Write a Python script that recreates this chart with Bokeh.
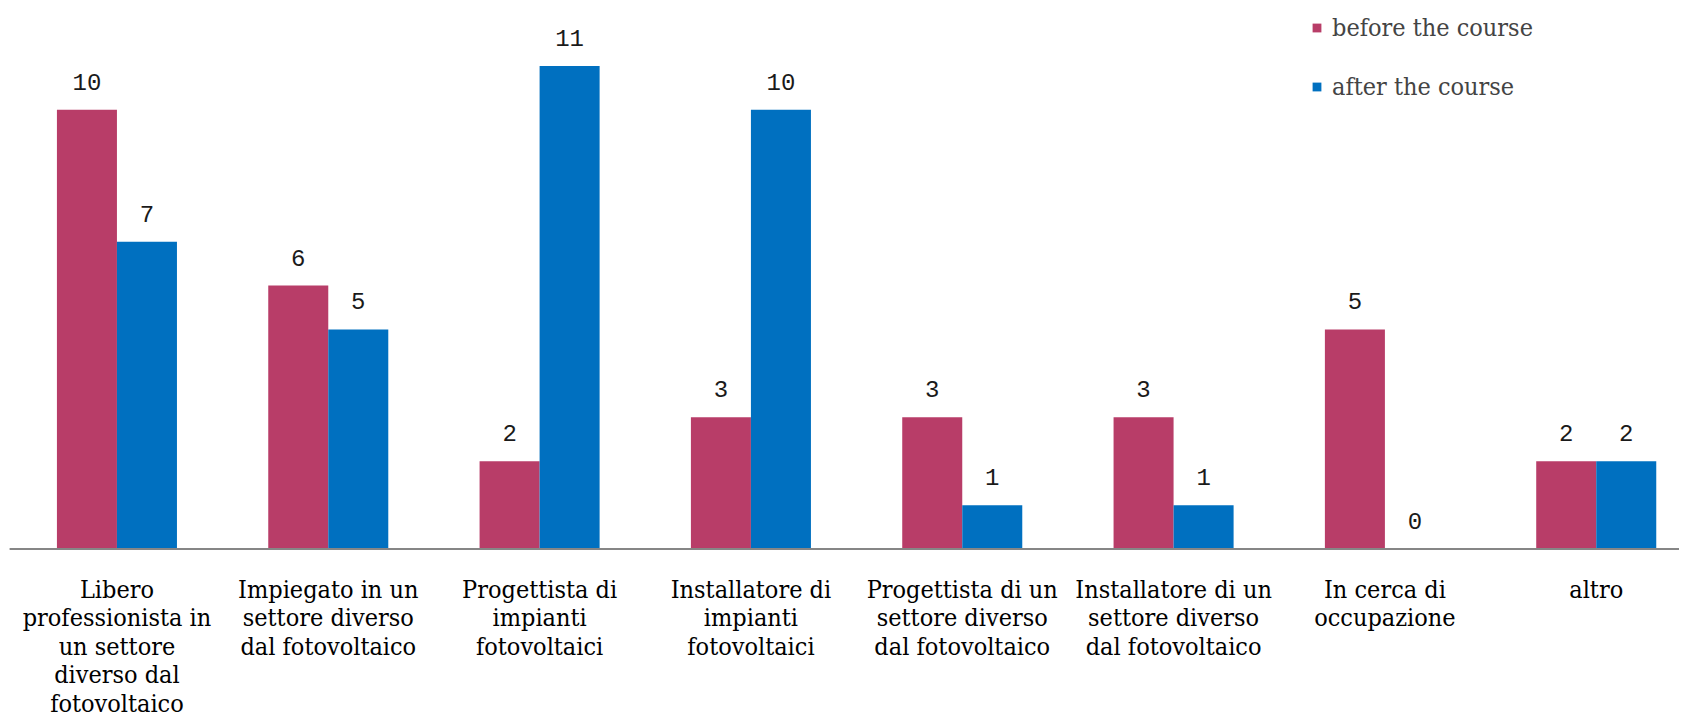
from bokeh.plotting import figure
from bokeh.models import Range1d, ColumnDataSource, Legend, LegendItem
from bokeh.core.properties import value
from bokeh.transform import dodge
from bokeh.embed import file_html
from bokeh.resources import INLINE

categories = [
    "Libero\nprofessionista in\nun settore\ndiverso dal\nfotovoltaico",
    "Impiegato in un\nsettore diverso\ndal fotovoltaico",
    "Progettista di\nimpianti\nfotovoltaici",
    "Installatore di\nimpianti\nfotovoltaici",
    "Progettista di un\nsettore diverso\ndal fotovoltaico",
    "Installatore di un\nsettore diverso\ndal fotovoltaico",
    "In cerca di\noccupazione",
    "altro",
]
before = [10, 6, 2, 3, 3, 3, 5, 2]
after = [7, 5, 11, 10, 1, 1, 0, 2]
series_names = ["before the course", "after the course"]

PINK = "#B83D68"
BLUE = "#0070C0"
LABEL_FONT = "DejaVu Serif Condensed"
NUM_FONT = "Liberation Mono"

xs = [i + 0.5 for i in range(len(categories))]
src = ColumnDataSource(dict(
    x=xs,
    before=before,
    after=after,
    before_lbl=[str(v) for v in before],
    after_lbl=[str(v) for v in after],
))

H = 719
p = figure(width=1679, height=H,
           x_range=Range1d(-0.051, 7.894), y_range=Range1d(-3.879, 12.49),
           output_backend="svg", toolbar_location=None,
           min_border=0, min_border_left=0, min_border_right=0,
           min_border_top=0, min_border_bottom=0)
p.axis.visible = False
p.grid.visible = False
p.outline_line_color = None
p.background_fill_color = "white"
p.border_fill_color = "white"

bw = 0.284
off = bw / 2
r1 = p.vbar(x=dodge("x", -off, range=p.x_range), top="before", width=bw,
            source=src, fill_color=PINK, line_color=None)
r2 = p.vbar(x=dodge("x", off, range=p.x_range), top="after", width=bw,
            source=src, fill_color=BLUE, line_color=None)

# category axis baseline
p.segment(x0=[-0.008], y0=[0], x1=[len(categories)], y1=[0],
          line_color="#868686", line_width=2)

for col, lbl, o in (("before", "before_lbl", -off), ("after", "after_lbl", off)):
    p.text(x=dodge("x", o, range=p.x_range), y=col, text=lbl, source=src,
           y_offset=-28, text_align="center", text_baseline="middle",
           text_font=value(NUM_FONT), text_font_size="24px", text_color="#1a1a1a")

# category labels, one line per glyph
lx, ly, lyo, lt = [], [], [], []
for i, c in enumerate(categories):
    for j, line in enumerate(c.split("\n")):
        lx.append(xs[i]); ly.append(0); lyo.append(40.0 + 28.5 * j); lt.append(line)
csrc = ColumnDataSource(dict(x=lx, y=ly, yo=lyo, t=lt))
p.text(x="x", y="y", y_offset="yo", text="t", source=csrc,
       text_align="center", text_baseline="middle",
       text_font=value(LABEL_FONT), text_font_size="25px", text_color="#000000")

legend = Legend(items=[LegendItem(label=series_names[0], renderers=[r1]),
                       LegendItem(label=series_names[1], renderers=[r2])],
                location=(1311, H - 15 - 86),
                glyph_width=11, glyph_height=11, label_standoff=10,
                label_text_font=LABEL_FONT, label_text_font_size="25px",
                label_height=30, spacing=29, padding=0, margin=0,
                border_line_color=None, background_fill_alpha=0)
p.add_layout(legend)

open("out.html", "w").write(file_html(p, INLINE))
